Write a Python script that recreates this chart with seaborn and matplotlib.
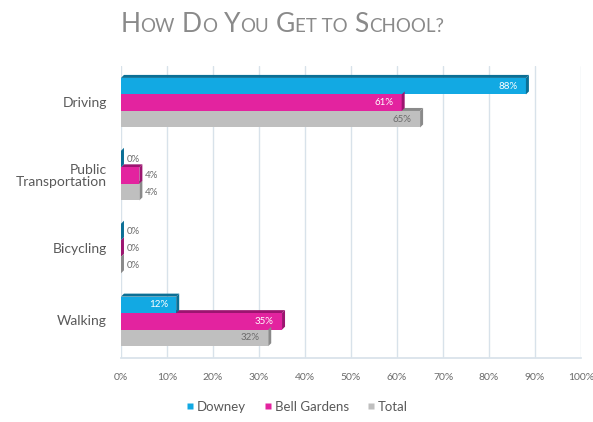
import matplotlib
matplotlib.use("Agg")
import matplotlib.pyplot as plt
from matplotlib.patches import Polygon
from matplotlib.lines import Line2D
from matplotlib.ticker import MultipleLocator, PercentFormatter
import seaborn as sns
import pandas as pd

categories = ["Driving", "Public\nTransportation", "Bicycling", "Walking"]
series_names = ["Downey", "Bell Gardens", "Total"]
downey = [88, 0, 0, 12]
bell_gardens = [61, 4, 0, 35]
total = [65, 4, 0, 32]

front = ["#12a9e3", "#e3239f", "#bfbfbf"]
shade = ["#0b6f95", "#9c1570", "#8a8a8a"]
label_in = ["white", "white", "#6b6b6b"]
text_gray = "#595959"

sns.set_theme(style="white")
plt.rcParams["font.family"] = ["Lato", "DejaVu Sans"]

df = pd.DataFrame({
    "mode": categories * 3,
    "series": [s for s in series_names for _ in categories],
    "pct": downey + bell_gardens + total,
})

fig = plt.figure(figsize=(5.93, 4.22), dpi=100)
ax = fig.add_axes([0.204, 0.152, 0.776, 0.691])

sns.barplot(data=df, y="mode", x="pct", hue="series", orient="h",
            palette=front, width=0.68, ax=ax, legend=False, zorder=3,
            linewidth=0, saturation=1)

ax.set_xlim(0, 100)
ax.set_ylim(3.5, -0.5)
ax.xaxis.set_major_locator(MultipleLocator(10))
ax.xaxis.set_major_formatter(PercentFormatter(100, decimals=0))
ax.set_yticks(range(len(categories)), labels=categories)
ax.grid(axis="x", color="#d8e2ea", linewidth=1.0, zorder=0)
ax.grid(axis="y", visible=False)
for side in ["top", "right", "left"]:
    ax.spines[side].set_visible(False)
ax.spines["bottom"].set_color("#d8e2ea")
ax.set_xlabel("")
ax.set_ylabel("")
ax.tick_params(axis="x", labelsize=7.5, labelcolor="#6b6b6b", length=0, pad=11)
ax.tick_params(axis="y", labelsize=10, labelcolor=text_gray, length=0, pad=10)

fig.canvas.draw()
for t in ax.get_yticklabels():
    t.set_rotation_mode("default")
    t.set_horizontalalignment("right")
    t.set_verticalalignment("center")
    t.set_multialignment("right")
    t.set_linespacing(1.0)

# bevelled faces give each bar its raised look
inv = ax.transData.inverted()
p0 = inv.transform((0, 0))
p1 = inv.transform((3, 3))
dx, dy = p1[0] - p0[0], p1[1] - p0[1]
for i, cont in enumerate(ax.containers):
    for bar in cont:
        x0, y0 = bar.get_x(), bar.get_y()
        w, h = bar.get_width(), bar.get_height()
        x1 = x0 + w
        ytop, ybot = min(y0, y0 + h), max(y0, y0 + h)
        top = Polygon([(x0, ytop), (x1, ytop), (x1 + dx, ytop + dy), (x0 + dx, ytop + dy)],
                      closed=True, facecolor=shade[i], edgecolor="none", zorder=2)
        side = Polygon([(x1, ytop), (x1 + dx, ytop + dy), (x1 + dx, ybot + dy), (x1, ybot)],
                       closed=True, facecolor=shade[i], edgecolor="none", zorder=3.5)
        ax.add_patch(top)
        ax.add_patch(side)

# value labels: inside long bars, outside short ones
for i, cont in enumerate(ax.containers):
    for bar in cont:
        v = bar.get_width()
        yc = bar.get_y() + bar.get_height() / 2
        if v >= 10:
            ax.annotate(f"{v:.0f}%", xy=(v, yc), xytext=(-6, 0), textcoords="offset points",
                        ha="right", va="center", fontsize=7, color=label_in[i], zorder=5)
        else:
            ax.annotate(f"{v:.0f}%", xy=(v, yc), xytext=(4, 0), textcoords="offset points",
                        ha="left", va="center", fontsize=7, color="#6b6b6b", zorder=5)

# small-caps title built from big and small capital runs
title_color = "#8a8a8a"
pieces = [("H", True, 0), ("OW", False, 0), ("D", True, 5), ("O", False, 0),
          ("Y", True, 5), ("OU", False, 0), ("G", True, 5), ("ET TO", False, 0),
          ("S", True, 5), ("CHOOL?", False, 0)]
y_base = 0.925
prev = fig.text(0.203, y_base, pieces[0][0], fontsize=19, color=title_color,
                va="baseline", ha="left")
for txt, big, gap in pieces[1:]:
    prev = ax.annotate(txt, xy=(1, y_base), xycoords=(prev, "figure fraction"),
                       xytext=(gap, 0), textcoords="offset points",
                       fontsize=19 if big else 13.5, color=title_color,
                       va="baseline", ha="left", annotation_clip=False)

handles = [Line2D([], [], marker="s", linestyle="none", markersize=5,
                  markerfacecolor=c, markeredgecolor="none") for c in front]
fig.legend(handles, series_names, loc="center", bbox_to_anchor=(0.50, 0.036),
           ncol=3, frameon=False, fontsize=9.5, labelcolor=text_gray,
           handletextpad=0.1, columnspacing=1.3, handlelength=0.8)

fig.savefig("out.png", dpi=100)
